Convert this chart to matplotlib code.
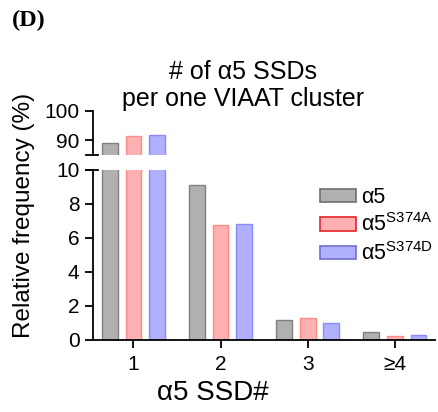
import matplotlib
matplotlib.use("Agg")
import matplotlib.pyplot as plt
from matplotlib.patches import Patch
import numpy as np

plt.rcParams['font.family'] = ['Liberation Sans', 'DejaVu Sans']
plt.rcParams['mathtext.fontset'] = 'custom'
plt.rcParams['mathtext.rm'] = 'Liberation Sans'

categories = ['1', '2', '3', '≥4']
wt = [89.1, 9.09, 1.15, 0.45]
s374a = [91.6, 6.78, 1.28, 0.24]
s374d = [91.7, 6.84, 1.00, 0.30]

series = [
    (wt, '#b0b0b0', '#808080', 'α5', '#707070'),
    (s374a, '#ffb0b0', '#ff8a8a', 'α5$^{\\mathrm{S374A}}$', '#e02828'),
    (s374d, '#b0b0ff', '#8a8aff', 'α5$^{\\mathrm{S374D}}$', '#7070d0'),
]

fig = plt.figure(figsize=(4.38, 4.12), dpi=100)
ax_lo = fig.add_axes([0.213, 0.1748, 0.780, 0.4126])
ax_hi = fig.add_axes([0.213, 0.6238, 0.780, 0.1068])

x = np.arange(1, len(categories) + 1)
offsets = [-0.27, 0.0, 0.27]
width = 0.18

for ax in (ax_lo, ax_hi):
    for (vals, fc, ec, lab, lec), off in zip(series, offsets):
        ax.bar(x + off, vals, width=width, color=fc, edgecolor=ec, linewidth=1.0)
    ax.set_xlim(0.54, 4.46)
    for s in ('top', 'right'):
        ax.spines[s].set_visible(False)
    ax.spines['left'].set_linewidth(1.3)
    ax.tick_params(axis='y', labelsize=15, width=1.3, length=6, pad=4)

ax_lo.set_ylim(0, 10)
ax_lo.set_yticks([0, 2, 4, 6, 8, 10])
ax_lo.set_xticks(x)
ax_lo.set_xticklabels(categories, fontsize=15)
ax_lo.tick_params(axis='x', width=1.3, length=6, pad=5)
ax_lo.spines['bottom'].set_linewidth(1.3)

ax_hi.set_ylim(85, 100)
ax_hi.set_yticks([90, 100])
ax_hi.spines['bottom'].set_visible(False)
ax_hi.set_xticks([])

# break caps at the ends of the split y axis
ax_hi.plot([-0.02, 0.015], [0, 0], transform=ax_hi.transAxes, color='black',
           lw=1.3, clip_on=False)
ax_lo.plot([-0.02, 0.015], [1, 1], transform=ax_lo.transAxes, color='black',
           lw=1.3, clip_on=False)

fig.text(0.487, 0.046, 'α5 SSD#', fontsize=20, ha='center', va='center')
fig.text(0.055, 0.476, 'Relative frequency (%)', rotation=90, fontsize=17.5,
         ha='center', va='center')

fig.text(0.555, 0.792, '# of α5 SSDs\nper one VIAAT cluster', fontsize=18,
         ha='center', va='center', linespacing=1.15)
fig.text(0.028, 0.951, '(D)', fontsize=17.5, fontweight='bold',
         family='Liberation Serif', ha='left', va='center')

handles = [Patch(facecolor=fc, edgecolor=lec, linewidth=1.2, label=lab)
           for (vals, fc, ec, lab, lec) in series]
ax_lo.legend(handles=handles, loc='upper left', bbox_to_anchor=(0.665, 0.90),
             frameon=False, fontsize=15.5, handlelength=1.65, handleheight=0.6,
             handletextpad=0.25, labelspacing=0.26, borderaxespad=0,
             borderpad=0)

fig.savefig('out.png', dpi=100)
